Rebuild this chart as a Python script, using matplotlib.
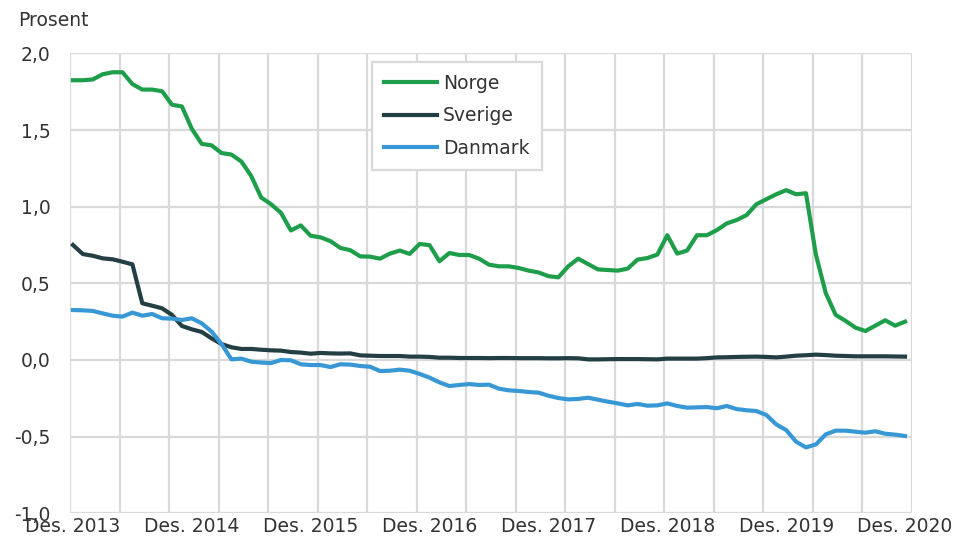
import matplotlib
matplotlib.use('Agg')
import matplotlib.pyplot as plt
import numpy as np

green = '#1e9e4a'
dark = '#233f44'
blue = '#3898d6'
grid_grey = '#d9d9d9'
text_col = '#333333'

# monthly, Des. 2013 - Des. 2020
norge = [1.825, 1.825, 1.83, 1.864, 1.877, 1.877, 1.80, 1.764, 1.764, 1.753,
         1.665, 1.654, 1.508, 1.41, 1.40, 1.35, 1.34, 1.295, 1.20, 1.06,
         1.016, 0.96, 0.845, 0.878, 0.81, 0.80, 0.775, 0.731, 0.716, 0.676,
         0.674, 0.661, 0.694, 0.714, 0.692, 0.757, 0.749, 0.644, 0.698, 0.685,
         0.685, 0.661, 0.622, 0.611, 0.611, 0.60, 0.583, 0.571, 0.547, 0.539,
         0.611, 0.661, 0.626, 0.591, 0.587, 0.583, 0.596, 0.655, 0.665, 0.688,
         0.814, 0.694, 0.714, 0.814, 0.814, 0.847, 0.891, 0.913, 0.945, 1.016,
         1.049, 1.081, 1.108, 1.081, 1.088, 0.688, 0.436, 0.294, 0.255, 0.211,
         0.189, 0.224, 0.259, 0.224, 0.25]
sverige = [0.750, 0.691, 0.680, 0.663, 0.657, 0.641, 0.624, 0.37, 0.354, 0.337,
           0.294, 0.222, 0.20, 0.183, 0.141, 0.104, 0.083, 0.072, 0.072, 0.067,
           0.063, 0.061, 0.052, 0.048, 0.041, 0.046, 0.043, 0.042, 0.043, 0.030,
           0.028, 0.026, 0.026, 0.026, 0.022, 0.022, 0.020, 0.015, 0.015, 0.013,
           0.013, 0.013, 0.012, 0.013, 0.013, 0.012, 0.012, 0.012, 0.011, 0.011,
           0.012, 0.011, 0.004, 0.004, 0.005, 0.006, 0.006, 0.006, 0.005, 0.004,
           0.009, 0.009, 0.009, 0.009, 0.012, 0.017, 0.018, 0.020, 0.021, 0.022,
           0.020, 0.017, 0.022, 0.028, 0.031, 0.035, 0.032, 0.028, 0.026, 0.024,
           0.024, 0.024, 0.024, 0.023, 0.022]
danmark = [0.326, 0.324, 0.32, 0.304, 0.289, 0.283, 0.309, 0.289, 0.30, 0.272,
           0.27, 0.261, 0.272, 0.239, 0.185, 0.104, 0.004, 0.009, -0.011, -0.017,
           -0.02, 0.0, -0.002, -0.028, -0.033, -0.033, -0.046, -0.028, -0.030, -0.039,
           -0.044, -0.072, -0.070, -0.063, -0.070, -0.091, -0.115, -0.146, -0.170, -0.163,
           -0.157, -0.163, -0.161, -0.187, -0.198, -0.202, -0.209, -0.213, -0.233, -0.248,
           -0.257, -0.254, -0.246, -0.259, -0.272, -0.283, -0.296, -0.287, -0.298, -0.296,
           -0.283, -0.300, -0.311, -0.309, -0.307, -0.315, -0.300, -0.320, -0.328, -0.333,
           -0.359, -0.420, -0.457, -0.533, -0.570, -0.551, -0.485, -0.461, -0.461, -0.468,
           -0.474, -0.465, -0.481, -0.487, -0.496]
xlabels = ['Des. 2013', 'Des. 2014', 'Des. 2015', 'Des. 2016',
           'Des. 2017', 'Des. 2018', 'Des. 2019', 'Des. 2020']

plt.rcParams['font.family'] = 'DejaVu Sans'
plt.rcParams['font.size'] = 13.5

x = np.arange(len(norge))

fig = plt.figure(figsize=(9.68, 5.45), dpi=100)
ax = fig.add_axes([0.0723, 0.0582, 0.8698, 0.8438])

ax.plot(x, norge, color=green, lw=3, label='Norge')
ax.plot(x, sverige, color=dark, lw=3, label='Sverige')
ax.plot(x, danmark, color=blue, lw=3, label='Danmark')

ax.set_xlim(-0.3, 84.7)
ax.set_ylim(-1.0, 2.0)

ax.set_xticks(np.arange(0, 85, 12))
ax.set_xticklabels(xlabels, color=text_col)
ax.set_xticks(np.arange(0, 18) * 5 - 0.3, minor=True)
yt = np.arange(-1.0, 2.01, 0.5)
ax.set_yticks(yt)
ax.set_yticklabels([f'{v:.1f}'.replace('.', ',') for v in yt], color=text_col)
ax.tick_params(axis='both', which='both', length=0)
ax.tick_params(axis='x', pad=3)
ax.tick_params(axis='y', pad=14)

ax.grid(which='minor', axis='x', color=grid_grey, lw=1.6)
ax.grid(which='major', axis='y', color=grid_grey, lw=1.6)
ax.grid(which='major', axis='x', visible=False)
ax.set_axisbelow(True)
for s in ax.spines.values():
    s.set_visible(False)

fig.text(18 / 968, 1 - 26 / 545, 'Prosent', color=text_col, va='baseline', ha='left')

leg = ax.legend(loc='upper left', bbox_to_anchor=(0.3583, 0.982), borderaxespad=0,
                frameon=True, fancybox=False, framealpha=1, edgecolor=grid_grey,
                handlelength=2.85, handletextpad=0.3, labelspacing=0.72,
                borderpad=0.65)
leg.get_frame().set_linewidth(1.6)
for t in leg.get_texts():
    t.set_color(text_col)

plt.savefig('out.png', dpi=100)
